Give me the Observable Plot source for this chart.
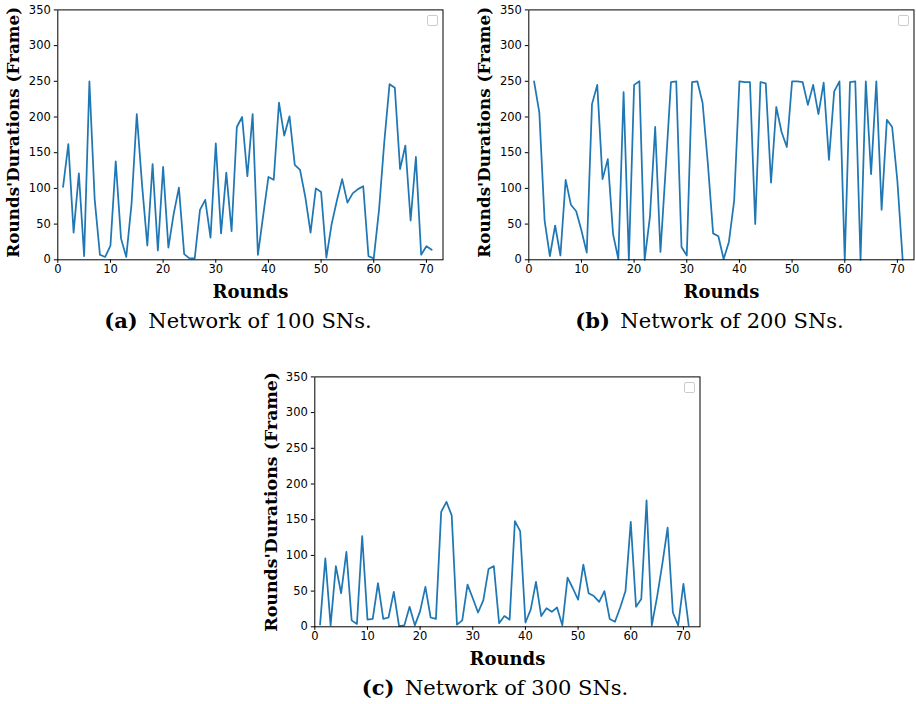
<!DOCTYPE html>
<html>
<head>
<meta charset="utf-8">
<script src="https://cdn.jsdelivr.net/npm/d3@7"></script>
<script src="https://cdn.jsdelivr.net/npm/@observablehq/plot@0.6"></script>
<style>
  body { margin: 0; background: #fff; }
  #fig { position: relative; width: 916px; height: 704px; overflow: hidden; background: #fff; }
  .panel { position: absolute; }
  .legend-box { position: absolute; width: 9px; height: 9px; border: 1px solid #cccccc; border-radius: 2px; background: #fff; }
  #captions { position: absolute; left: 0; top: 0; }
</style>
</head>
<body>
<div id="fig"></div>
<script>
// Round durations (frames) per round, rounds 1..71
const net100 = [102, 162, 38, 121, 5, 250, 85, 7, 4, 20, 138, 30, 4, 78, 204, 105, 20, 134, 13, 130,
  17, 64, 101, 8, 2, 2, 70, 84, 31, 163, 37, 122, 40, 186, 200, 117, 204, 7, 62, 116,
  112, 220, 174, 201, 133, 126, 88, 38, 100, 95, 3, 50, 83, 113, 80, 93, 99, 103, 5, 2,
  70, 165, 246, 241, 127, 160, 55, 144, 7, 19, 14];
const net200 = [250, 206, 55, 5, 48, 6, 112, 77, 68, 41, 10, 218, 245, 113, 141, 36, 1, 235, 0, 245,
  250, 0, 60, 186, 11, 128, 249, 250, 18, 6, 249, 250, 220, 135, 37, 33, 1, 25, 83, 250,
  249, 249, 50, 249, 247, 108, 214, 179, 158, 250, 250, 249, 217, 245, 204, 248, 140, 236, 250, 0,
  249, 250, 0, 250, 120, 250, 70, 196, 186, 110, 0];
const net300 = [3, 96, 2, 85, 47, 105, 9, 4, 127, 10, 11, 61, 11, 13, 49, 1, 2, 28, 2, 22,
  56, 13, 11, 161, 175, 156, 3, 9, 59, 40, 20, 37, 81, 85, 5, 15, 10, 148, 134, 6,
  24, 63, 15, 26, 21, 27, 2, 69, 54, 38, 87, 47, 43, 35, 50, 11, 7, 27, 50, 147,
  28, 39, 177, 2, 42, 88, 139, 20, 2, 60, 2];

const xTicks = [0, 10, 20, 30, 40, 50, 60, 70];
const yTicks = [0, 50, 100, 150, 200, 250, 300, 350];
const xLabel = "Rounds";
const yLabel = "Rounds'Durations (Frame)";
const captionTags = ["(a)", "(b)", "(c)"];
const captionTexts = ["Network of 100 SNs.", "Network of 200 SNs.", "Network of 300 SNs."];

const fig = document.getElementById("fig");
const lineColor = "#1f77b4";

function panel(values, box) {
  const data = values.map((v, i) => ({round: i + 1, duration: v}));
  const chart = Plot.plot({
    width: box.width,
    height: box.height,
    marginLeft: box.ml,
    marginTop: box.mt,
    marginRight: box.width - box.ml - 385.2,
    marginBottom: box.height - box.mt - 249.9,
    style: {fontFamily: "DejaVu Sans", fontSize: "11.5px", color: "#000", background: "transparent", overflow: "visible"},
    x: {domain: [0, 73.15]},
    y: {domain: [0, 350]},
    marks: [
      Plot.axisX({ticks: xTicks, tickSize: 3.5, tickPadding: 2, label: null, fontSize: 11.5}),
      Plot.axisY({ticks: yTicks, tickSize: 3.5, tickPadding: 3.5, label: null, fontSize: 11.5}),
      Plot.line(data, {x: "round", y: "duration", stroke: lineColor, strokeWidth: 1.75}),
      Plot.frame({stroke: "#000", strokeWidth: 1}),
      Plot.text([xLabel], {text: d => d, frameAnchor: "bottom", lineAnchor: "bottom", dy: 38.4,
        fontFamily: "DejaVu Serif", fontWeight: "bold", fontSize: 18, fill: "#000"}),
      Plot.text([yLabel], {text: d => d, frameAnchor: "left", rotate: -90, textAnchor: "middle", lineAnchor: "middle",
        dx: -43.8, dy: box.ldy, fontFamily: "DejaVu Serif", fontWeight: "bold", fontSize: box.lfs, fill: "#000"})
    ]
  });
  chart.classList.add("panel");
  chart.style.left = box.left + "px";
  chart.style.top = box.top + "px";
  fig.appendChild(chart);

  // empty legend frame in the upper-right corner of the axes
  const lg = document.createElement("div");
  lg.className = "legend-box";
  lg.style.left = (box.left + box.ml + 385.2 - 16) + "px";
  lg.style.top = (box.top + box.mt + 5.6) + "px";
  fig.appendChild(lg);
}

panel(net100, {left: 0, top: 0, width: 460, height: 305, ml: 57.3, mt: 9.4, ldy: -2.6, lfs: 16.8});
panel(net200, {left: 471.2, top: 0, width: 444.8, height: 305, ml: 57.3, mt: 9.4, ldy: -2.6, lfs: 16.8});
panel(net300, {left: 257.2, top: 366.5, width: 460, height: 305, ml: 57.3, mt: 9.4, ldy: 0, lfs: 17.4});

// sub-figure captions
const cap = d3.select(fig).append("svg")
  .attr("id", "captions").attr("width", 916).attr("height", 704);
const capPos = [[238, 328], [709.5, 328], [495, 695]];
capPos.forEach(([cx, by], i) => {
  const t = cap.append("text")
    .attr("x", cx).attr("y", by).attr("text-anchor", "middle")
    .attr("font-family", "DejaVu Serif").attr("font-size", 21).attr("fill", "#000");
  t.append("tspan").attr("font-weight", "bold").text(captionTags[i]);
  t.append("tspan").text("\u2002" + captionTexts[i]);
});
</script>
</body>
</html>
